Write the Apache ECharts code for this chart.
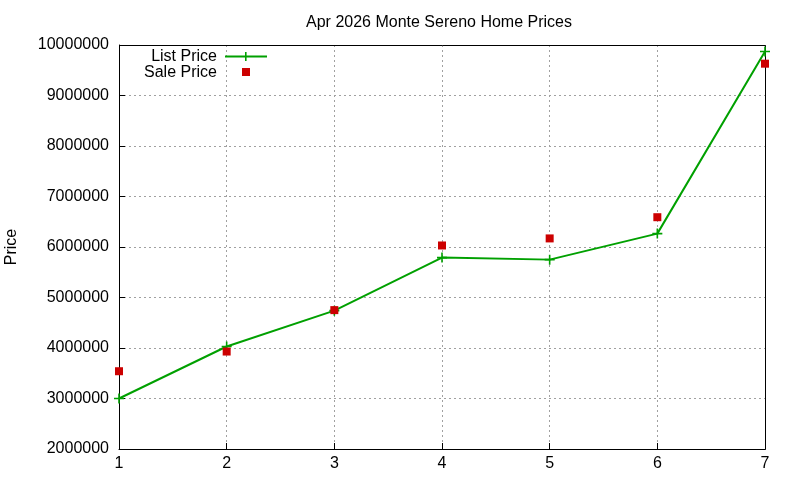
<!DOCTYPE html>
<html>
<head>
<meta charset="utf-8">
<script src="https://cdn.jsdelivr.net/npm/echarts@6/dist/echarts.min.js"></script>
<style>html,body{margin:0;padding:0;background:#fff}#c{width:800px;height:480px}</style>
</head>
<body>
<div id="c"></div>
<script>
var titleText = 'Apr 2026 Monte Sereno Home Prices';
var xValues = [1, 2, 3, 4, 5, 6, 7];
var listPrice = [3000000, 4030000, 4740000, 5790000, 5750000, 6265000, 9870000];
var salePrice = [3540000, 3930000, 4750000, 6030000, 6170000, 6590000, 9630000];
var yTicks = [2000000, 3000000, 4000000, 5000000, 6000000, 7000000, 8000000, 9000000, 10000000];

var FONT = 'Liberation Sans, Arial, sans-serif';
var GREEN = '#00a000';
var RED = '#cc0000';
var plusPath = 'path://M4.2,0H5.8V10H4.2Z M0,4.2H10V5.8H0Z';

var chart = echarts.init(document.getElementById('c'), null, {renderer: 'canvas'});
chart.setOption({
  animation: false,
  backgroundColor: '#fff',
  title: {
    text: titleText, left: 434, top: 10, textAlign: 'center',
    textStyle: {fontFamily: FONT, fontSize: 16, fontWeight: 'normal', color: '#000'}
  },
  grid: {left: 119, right: 35, top: 45, bottom: 31, containLabel: false, outerBoundsMode: 'none'},
  legend: {
    orient: 'vertical', align: 'right', left: 144, top: 49, padding: 0,
    itemWidth: 40, itemHeight: 10, itemGap: 0,
    textStyle: {fontFamily: FONT, fontSize: 16, lineHeight: 15, color: '#000'},
    data: [
      {name: 'List Price', icon: 'none'},
      {name: 'Sale Price', icon: 'none'}
    ],
    selectedMode: false
  },
  xAxis: {
    type: 'value', min: 1, max: 7, interval: 1,
    axisLine: {show: true, onZero: false, lineStyle: {color: '#000', width: 1}},
    axisTick: {inside: true, length: 6, lineStyle: {color: '#000'}},
    axisLabel: {fontFamily: FONT, fontSize: 16, color: '#000', margin: 7,
      formatter: function (v) { return String(v); }},
    splitLine: {show: true, lineStyle: {color: '#a0a0a0', type: [2, 3], width: 1}}
  },
  yAxis: {
    type: 'value', min: 2000000, max: 10000000, interval: 1000000,
    name: 'Price', nameLocation: 'middle', nameGap: 99, nameRotate: 90,
    nameTextStyle: {fontFamily: FONT, fontSize: 16, color: '#000'},
    axisLine: {show: true, onZero: false, lineStyle: {color: '#000', width: 1}},
    axisTick: {inside: true, length: 6, lineStyle: {color: '#000'}},
    axisLabel: {fontFamily: FONT, fontSize: 16, color: '#000', margin: 10,
      formatter: function (v) { return String(v); }},
    splitLine: {show: true, lineStyle: {color: '#a0a0a0', type: [2, 3], width: 1}}
  },
  series: [
    {
      name: 'List Price', type: 'line',
      data: xValues.map(function (x, i) { return [x, listPrice[i]]; }),
      lineStyle: {color: GREEN, width: 2},
      itemStyle: {color: GREEN, opacity: 1},
      symbol: plusPath, symbolSize: 10, showSymbol: true,
      clip: false, z: 3
    },
    {
      name: 'Sale Price', type: 'scatter',
      data: xValues.map(function (x, i) { return [x, salePrice[i]]; }),
      itemStyle: {color: RED, opacity: 1},
      symbol: 'rect', symbolSize: 8, clip: false, z: 4
    }
  ],
  graphic: [
    {type: 'rect', shape: {x: 119.5, y: 45.5, width: 646, height: 404}, style: {fill: 'none', stroke: '#000', lineWidth: 1}, silent: true, z: 1},
    {type: 'line', shape: {x1: 225, y1: 56.5, x2: 267, y2: 56.5}, style: {stroke: GREEN, lineWidth: 2}, z: 10},
    {type: 'rect', shape: {x: 245, y: 52, width: 1.6, height: 9}, style: {fill: GREEN}, z: 10},
    {type: 'rect', shape: {x: 242, y: 68, width: 8, height: 8}, style: {fill: RED}, z: 10}
  ]
});
</script>
</body>
</html>
